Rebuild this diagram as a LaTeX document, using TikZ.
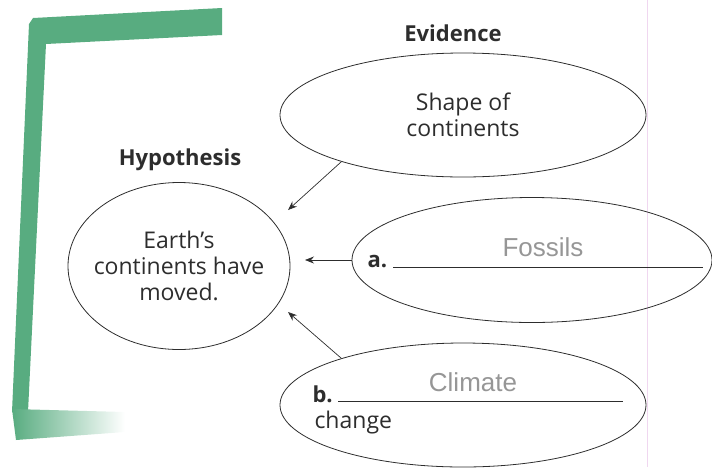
\documentclass[tikz,border=0pt]{standalone}
\usepackage{fontspec}
\setmainfont{Open Sans}
\newfontfamily\handfont{Liberation Sans}
\usetikzlibrary{arrows.meta,shapes.geometric}

\definecolor{marker}{RGB}{88,172,128}
\definecolor{inkgray}{RGB}{45,45,45}
\definecolor{pencil}{RGB}{150,150,150}
\definecolor{edgepink}{RGB}{240,215,240}

\tikzset{
  bubble/.style = {ellipse, draw = inkgray, line width = 0.8pt, inner sep = 0pt},
  words/.style = {align = center, font = \fontsize{23}{26}\selectfont, text = inkgray},
  heading/.style = {font = \fontsize{22}{24}\selectfont\bfseries, text = inkgray},
  answer/.style = {font = \handfont\fontsize{26}{28}\selectfont, text = pencil},
  feed/.style = {draw = inkgray, line width = 0.7pt, -{Stealth[length=9pt, width=7pt, inset=3pt]}},
}

\begin{document}
\begin{tikzpicture}[x = 1pt, y = -1pt]
    \useasboundingbox (0,0) rectangle (712,467);
    % marker bracket
    \fill[marker] (33,18) -- (222,8) -- (222,35) -- (46,44) -- (28,412) -- (12,412)
        -- (29,24) -- cycle;
    \shade[left color = marker, right color = white]
        (12,409) -- (125,412) -- (125,432) -- (16,440) -- cycle;
    % page edge
    \draw[edgepink, line width = 0.6pt] (647,0) -- (647,467);

    % ellipses
    \node[bubble, minimum width = 222pt, minimum height = 167pt] (HYP) at (179,266) {};
    \node[bubble, minimum width = 366pt, minimum height = 124pt] (SHAPE) at (463,115) {};
    \node[bubble, minimum width = 360pt, minimum height = 125pt] (FOSSIL) at (532,260) {};
    \node[bubble, minimum width = 366pt, minimum height = 124pt] (CLIMATE) at (463,405) {};

    \node[words] (HYPTXT) at (HYP) {Earth’s\\continents have\\moved.};
    \node[words] (SHAPETXT) at (SHAPE) {Shape of\\continents};

    \node[heading] (HYPT) at (180,160) {Hypothesis};
    \node[heading] (EVT) at (453,33) {Evidence};

    % a.
    \node[heading, anchor = base west] (ALBL) at (364,267) {a.};
    \draw[inkgray, line width = 0.8pt] (393,267) -- (703,267);
    \node[answer, anchor = base] (AANS) at (543,256) {Fossils};
    % b.
    \node[heading, anchor = base west] (BLBL) at (309,402) {b.};
    \draw[inkgray, line width = 0.8pt] (338,401) -- (623,401);
    \node[answer, anchor = base] (BANS) at (473,391) {Climate};
    \node[words, anchor = base west] (BCHG) at (311,428) {change};

    % arrows
    \coordinate (TIPA) at (288,210);
    \coordinate (TIPB) at (305,260);
    \coordinate (TIPC) at (288,312);
    \draw[feed] (SHAPE.201) -- (TIPA);
    \draw[feed] (FOSSIL.west) -- (TIPB);
    \draw[feed] (CLIMATE.159) -- (TIPC);
\end{tikzpicture}
\end{document}
